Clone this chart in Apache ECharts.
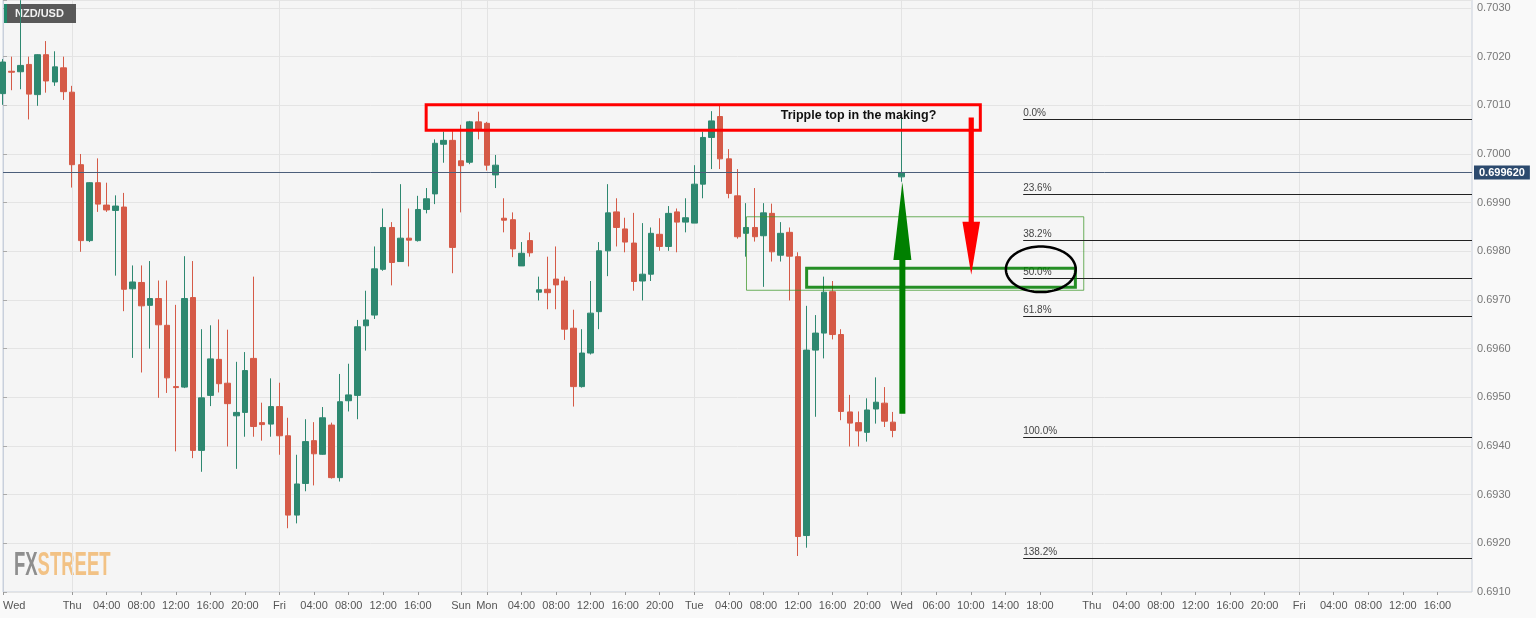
<!DOCTYPE html>
<html>
<head>
<meta charset="utf-8">
<script src="https://cdn.jsdelivr.net/npm/echarts@6/dist/echarts.min.js"></script>
<style>
html,body{margin:0;padding:0;background:#f9f9f9;}
#chart{width:1536px;height:618px;}
</style>
</head>
<body>
<div id="chart"></div>
<script>
// ---------- DATA ----------
// hourly candles, index 0 = Wed 16:00 ... index 104 = Wed 00:00 (weekend gap removed)
const opens = [0.70124,0.70170,0.70169,0.70184,0.70122,0.70204,0.70148,0.70177,0.70127,0.69978,
  0.69822,0.69941,0.69895,0.69884,0.69891,0.69723,0.69736,0.69689,0.69703,0.69648,
  0.69522,0.69521,0.69705,0.69391,0.69504,0.69578,0.69529,0.69462,0.69469,0.69580,
  0.69448,0.69445,0.69481,0.69421,0.69258,0.69323,0.69411,0.69383,0.69443,0.69335,
  0.69493,0.69504,0.69647,0.69669,0.69763,0.69849,0.69779,0.69827,0.69822,0.69886,
  0.69918,0.70020,0.70028,0.69986,0.69983,0.70066,0.70063,0.69957,0.69868,0.69865,
  0.69770,0.69822,0.69716,0.69722,0.69743,0.69739,0.69642,0.69522,0.69591,0.69676,
  0.69801,0.69881,0.69846,0.69817,0.69739,0.69753,0.69835,0.69810,0.69881,0.69860,
  0.69858,0.69938,0.70034,0.70077,0.69990,0.69914,0.69837,0.69849,0.69832,0.69878,
  0.69792,0.69839,0.69789,0.69216,0.69597,0.69632,0.69717,0.69629,0.69470,0.69448,
  0.69428,0.69476,0.69488,0.69449,0.69953];
const closes = [0.70189,0.70168,0.70182,0.70123,0.70204,0.70150,0.70179,0.70128,0.69978,0.69822,
  0.69941,0.69897,0.69885,0.69893,0.69722,0.69737,0.69688,0.69703,0.69649,0.69540,
  0.69520,0.69703,0.69391,0.69499,0.69579,0.69528,0.69487,0.69469,0.69555,0.69440,
  0.69444,0.69481,0.69421,0.69258,0.69322,0.69409,0.69384,0.69458,0.69335,0.69491,
  0.69505,0.69645,0.69659,0.69764,0.69849,0.69777,0.69827,0.69823,0.69886,0.69908,
  0.70022,0.70028,0.69808,0.69976,0.70066,0.70051,0.69977,0.69977,0.69864,0.69805,
  0.69796,0.69797,0.69721,0.69715,0.69731,0.69640,0.69522,0.69591,0.69673,0.69801,
  0.69879,0.69849,0.69819,0.69738,0.69753,0.69837,0.69810,0.69878,0.69860,0.69869,
  0.69938,0.70034,0.70068,0.69990,0.69919,0.69830,0.69849,0.69830,0.69879,0.69799,
  0.69837,0.69790,0.69214,0.69597,0.69632,0.69716,0.69629,0.69471,0.69447,0.69431,
  0.69474,0.69490,0.69451,0.69432,0.69962];
const lows = [0.70101,0.70131,0.70133,0.70071,0.70099,0.70126,0.70140,0.70111,0.69931,0.69799,
  0.69819,0.69881,0.69881,0.69750,0.69677,0.69581,0.69551,0.69600,0.69499,0.69509,
  0.69389,0.69519,0.69375,0.69347,0.69482,0.69510,0.69399,0.69353,0.69419,0.69419,
  0.69411,0.69419,0.69382,0.69231,0.69241,0.69307,0.69319,0.69382,0.69333,0.69327,
  0.69471,0.69455,0.69596,0.69661,0.69760,0.69730,0.69779,0.69769,0.69820,0.69878,
  0.69897,0.69982,0.69755,0.69880,0.69979,0.70030,0.69966,0.69930,0.69839,0.69788,
  0.69770,0.69789,0.69699,0.69681,0.69681,0.69618,0.69481,0.69520,0.69588,0.69640,
  0.69749,0.69810,0.69798,0.69719,0.69699,0.69739,0.69801,0.69801,0.69798,0.69839,
  0.69858,0.69909,0.69969,0.69969,0.69909,0.69826,0.69789,0.69820,0.69727,0.69779,
  0.69779,0.69699,0.69174,0.69191,0.69460,0.69580,0.69619,0.69453,0.69399,0.69399,
  0.69409,0.69446,0.69439,0.69418,0.69943];
const highs = [0.70195,0.70200,0.70316,0.70200,0.70205,0.70232,0.70211,0.70200,0.70140,0.70000,
  0.69942,0.69991,0.69941,0.69915,0.69920,0.69771,0.69771,0.69780,0.69740,0.69740,
  0.69690,0.69790,0.69780,0.69640,0.69648,0.69660,0.69639,0.69573,0.69593,0.69748,
  0.69489,0.69539,0.69530,0.69458,0.69382,0.69455,0.69449,0.69480,0.69448,0.69548,
  0.69569,0.69659,0.69719,0.69810,0.69888,0.69860,0.69938,0.69888,0.69914,0.69930,
  0.70030,0.70046,0.70047,0.70060,0.70068,0.70087,0.70066,0.69998,0.69909,0.69880,
  0.69819,0.69839,0.69748,0.69789,0.69810,0.69748,0.69680,0.69640,0.69739,0.69819,
  0.69938,0.69909,0.69869,0.69879,0.69858,0.69849,0.69868,0.69893,0.69888,0.69909,
  0.69977,0.70046,0.70088,0.70099,0.70010,0.69969,0.69899,0.69930,0.69899,0.69898,
  0.69860,0.69849,0.69798,0.69688,0.69669,0.69748,0.69739,0.69640,0.69505,0.69471,
  0.69498,0.69541,0.69521,0.69470,0.70075];

// time axis: 171 hourly slots, labelled slots below
const slotCount = 171;
const tickIndex = [0,8,12,16,20,24,28,32,36,40,44,48,53,56,60,64,68,72,76,80,84,88,92,96,100,104,108,112,116,120,126,130,134,138,142,146,150,154,158,162,166];
const tickText = ['Wed','Thu','04:00','08:00','12:00','16:00','20:00','Fri','04:00','08:00','12:00','16:00','Sun','Mon','04:00','08:00','12:00','16:00','20:00','Tue','04:00','08:00','12:00','16:00','20:00','Wed','06:00','10:00','14:00','18:00','Thu','04:00','08:00','12:00','16:00','20:00','Fri','04:00','08:00','12:00','16:00'];
const dayNames = ['Sun','Mon','Tue','Wed','Thu','Fri'];

// price axis
const yMin = 0.6910, yMax = 0.703164, yStep = 0.001;

// annotations (slot index, price)
const redBox = [48.97, 0.70101, 113.1, 0.70049];
const redBoxNote = [90.0, 0.70078];
const noteText = 'Tripple top in the making?';
const zoneOuter = [86.04, 0.69871, 125.07, 0.69720];
const zoneInner = [93.0, 0.69765, 124.1, 0.69726];
const greenArrow = [104.08, 0.69466, 0.69782, 0.69942]; // x, tail, head base, tip
const redArrow = [112.05, 0.70075, 0.69861, 0.69752];
const ellipseMark = [120.1, 0.69763, 4.04, 0.000468]; // cx, cy, rx (slots), ry (price)
const fibStart = 118.06;
const fibLabels = ['0.0%','23.6%','38.2%','50.0%','61.8%','100.0%','138.2%'];
const fibPrices = [0.70072, 0.69918, 0.69823, 0.69746, 0.69668, 0.69419, 0.69170];

// ---------- BUILD ----------
const categories = new Array(slotCount).fill('');
tickIndex.forEach((ix, k) => { categories[ix] = tickText[k]; });
const candles = opens.map((o, i) => [o, closes[i], lows[i], highs[i]]);
const lastClose = closes[closes.length - 1];

const UP = '#2e8870', DOWN = '#d55a47';
const FONT = '"Liberation Sans", Arial, sans-serif';

function boxSeries(box, stroke, lw, z) {
  return {
    type: 'custom', xAxisIndex: 1, yAxisIndex: 0, z: z, silent: true, clip: false,
    data: [box],
    renderItem: (params, api) => {
      const p0 = api.coord([api.value(0), api.value(1)]);
      const p1 = api.coord([api.value(2), api.value(3)]);
      return {
        type: 'rect',
        shape: { x: Math.min(p0[0], p1[0]), y: Math.min(p0[1], p1[1]),
                 width: Math.abs(p1[0] - p0[0]), height: Math.abs(p1[1] - p0[1]) },
        style: { fill: 'none', stroke: stroke, lineWidth: lw }
      };
    }
  };
}

function arrowSeries(arr, color, shaftHalf, headHalf, z) {
  return {
    type: 'custom', xAxisIndex: 1, yAxisIndex: 0, z: z, silent: true, clip: false,
    data: [arr],
    renderItem: (params, api) => {
      const x = api.value(0);
      const tail = api.coord([x, api.value(1)]);
      const base = api.coord([x, api.value(2)]);
      const tip = api.coord([x, api.value(3)]);
      const cx = tail[0];
      return {
        type: 'polygon',
        shape: { points: [
          [cx - shaftHalf, tail[1]], [cx - shaftHalf, base[1]], [cx - headHalf, base[1]],
          [cx, tip[1]], [cx + headHalf, base[1]], [cx + shaftHalf, base[1]], [cx + shaftHalf, tail[1]]
        ] },
        style: { fill: color, stroke: null }
      };
    }
  };
}

const series = [
  {
    type: 'candlestick',
    data: candles,
    barWidth: 6,
    clip: false,
    z: 2,
    itemStyle: { color: UP, color0: DOWN, borderColor: UP, borderColor0: DOWN, borderWidth: 1 },
    markLine: {
      silent: true, symbol: ['none', 'none'], animation: false, precision: 6,
      data: [{ yAxis: lastClose }],
      lineStyle: { color: '#4b5e7a', width: 1, type: 'solid' },
      label: {
        position: 'end', distance: 2,
        formatter: () => lastClose.toFixed(6),
        backgroundColor: '#2c4a6e', color: '#ffffff', fontWeight: 'bold',
        fontSize: 11, fontFamily: FONT, padding: [1, 5], lineHeight: 12
      }
    }
  },
  boxSeries(zoneOuter, 'rgba(60,150,40,0.75)', 1, 4),
  boxSeries(zoneInner, 'rgba(0,125,0,0.85)', 3, 5),
  boxSeries(redBox, '#ff0000', 3, 5),
  {
    type: 'custom', xAxisIndex: 1, yAxisIndex: 0, z: 6, silent: true, clip: false,
    data: [redBoxNote],
    renderItem: (params, api) => {
      const p = api.coord([api.value(0), api.value(1)]);
      return { type: 'text', x: p[0], y: p[1],
        style: { text: noteText, fill: '#111', font: 'bold 12.5px ' + FONT, align: 'left', verticalAlign: 'middle' } };
    }
  },
  arrowSeries(greenArrow, '#008000', 3, 9, 6),
  arrowSeries(redArrow, '#ff0000', 2.6, 8.8, 6),
  {
    type: 'custom', xAxisIndex: 1, yAxisIndex: 0, z: 6, silent: true, clip: false,
    data: [ellipseMark],
    renderItem: (params, api) => {
      const cx = api.value(0), cy = api.value(1), rx = api.value(2), ry = api.value(3);
      const c = api.coord([cx, cy]);
      const e = api.coord([cx + rx, cy + ry]);
      const a = Math.abs(e[0] - c[0]), b = Math.abs(e[1] - c[1]);
      const pts = [];
      for (let k = 0; k < 96; k++) {
        const t = k / 96 * Math.PI * 2;
        pts.push([c[0] + a * Math.cos(t), c[1] + b * Math.sin(t)]);
      }
      return { type: 'polygon', shape: { points: pts }, style: { fill: 'none', stroke: '#000', lineWidth: 2.5 } };
    }
  },
  {
    type: 'custom', xAxisIndex: 1, yAxisIndex: 0, z: 4, silent: true, clip: false,
    data: fibPrices.map((p, i) => [fibStart, p, i]),
    renderItem: (params, api) => {
      const p0 = api.coord([api.value(0), api.value(1)]);
      const p1 = api.coord([slotCount - 1, api.value(1)]);
      const y = Math.round(p0[1]) + 0.5;
      return { type: 'group', children: [
        { type: 'line', shape: { x1: p0[0], y1: y, x2: p1[0], y2: y }, style: { stroke: '#222', lineWidth: 1 } },
        { type: 'text', x: p0[0], y: y - 1,
          style: { text: fibLabels[api.value(2)], fill: '#444', font: '10px ' + FONT, align: 'left', verticalAlign: 'bottom' } }
      ] };
    }
  }
];

const option = {
  animation: false,
  backgroundColor: '#f9f9f9',
  grid: { left: 0, right: 64, top: 0, bottom: 26, show: true, backgroundColor: '#f5f5f5', borderColor: '#c9d0dc', borderWidth: 1 },
  xAxis: [
    {
      type: 'category', data: categories, boundaryGap: false,
      axisLine: { show: false },
      axisTick: { show: true, length: 3, interval: (i, v) => v !== '', lineStyle: { color: '#999' } },
      axisLabel: { interval: 0, margin: 8, color: '#555', fontSize: 11, fontFamily: FONT, alignMinLabel: 'left' },
      splitLine: { show: true, interval: (i, v) => i > 0 && dayNames.indexOf(v) >= 0, lineStyle: { color: '#e3e3e3', width: 1 } }
    },
    { type: 'value', min: 0, max: slotCount - 1, show: false }
  ],
  yAxis: {
    type: 'value', position: 'right', min: yMin, max: yMax, interval: yStep, scale: true,
    axisLine: { show: true, lineStyle: { color: '#c9d0dc' } },
    axisTick: { show: true, length: 4, lineStyle: { color: '#aaa' } },
    axisLabel: {
      margin: 5, color: '#777', fontSize: 11, fontFamily: FONT,
      formatter: v => (Math.abs(v * 1000 - Math.round(v * 1000)) < 1e-6 ? v.toFixed(4) : '')
    },
    splitLine: { show: true, lineStyle: { color: '#e4e4e4', width: 1 } }
  },
  graphic: [
    { type: 'rect', z: 1, shape: { x: 4, y: 4, width: 72, height: 19 }, style: { fill: 'rgba(72,72,72,0.9)' } },
    { type: 'rect', z: 1, shape: { x: 4, y: 4, width: 3, height: 19 }, style: { fill: '#1f8a6a' } },
    { type: 'text', z: 1, x: 15, y: 14, style: { text: 'NZD/USD', fill: '#f2f2f2', font: 'bold 11px ' + FONT, verticalAlign: 'middle' } },
    { type: 'group', z: 1, x: 14, y: 566, scaleX: 0.56, children: [
      { type: 'text', style: { text: '{a|FX}{b|STREET}', verticalAlign: 'middle',
        rich: { a: { fill: '#8e8e8e', font: 'bold 33px ' + FONT }, b: { fill: '#f2c285', font: 'bold 33px ' + FONT } } } }
    ] }
  ],
  series: series
};

const chart = echarts.init(document.getElementById('chart'), null, { renderer: 'canvas' });
chart.setOption(option);
</script>
</body>
</html>
